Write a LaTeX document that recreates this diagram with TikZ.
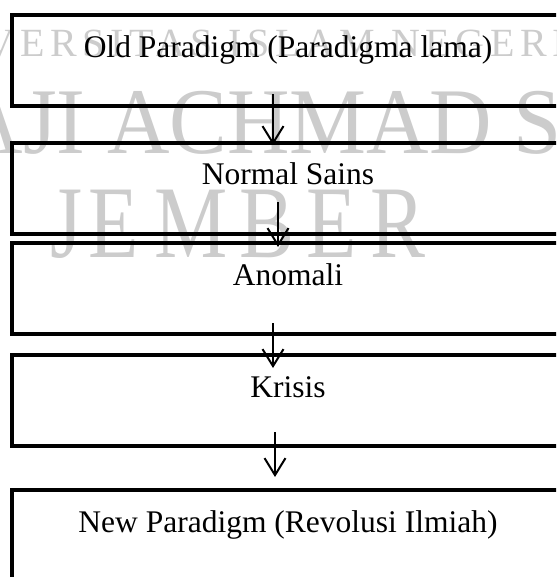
\documentclass[tikz,border=0pt]{standalone}
\usepackage{fontspec}
\setmainfont{Liberation Serif}
\usetikzlibrary{arrows.meta, positioning}

\tikzset{
  stage/.style={draw, line width=4pt, rectangle, anchor=north west, outer sep=0pt,
    minimum width=552pt, inner xsep=0pt, inner ysep=0pt,
    text height=42pt, text depth=49pt, font=\fontsize{31.5}{36}\selectfont},
  flow/.style={line width=2pt, -{Straight Barb[length=17pt, width=21pt]}},
  wmark/.style={text=black!20, inner sep=0pt},
}

\begin{document}
\begin{tikzpicture}[x=1pt, y=-1pt]
  \useasboundingbox (0,0) rectangle (556,577);
  \clip (0,0) rectangle (556,577);

  % watermark behind the flow
  \node[wmark, anchor=base, font=\fontsize{40}{42}\selectfont\addfontfeature{LetterSpace=14}] (wm1) at (232,57) {UNIVERSITAS ISLAM NEGERI};
  \node[wmark, anchor=base west, font=\fontsize{94}{96}\selectfont] (wm2) at (-306,154) {\scalebox{0.92}[1]{KIAI HAJI ACHMAD SIDDIQ}};
  \foreach \c/\x [count=\i] in {J/50,E/88,M/154,B/239,E/306,R/370}
    \node[wmark, anchor=base west, font=\fontsize{103}{105}\selectfont] (jem\i) at (\x,257) {\scalebox{0.8}[1]{\c}};

  % stages
  \node[stage] (box1) at (12,15.5) {Old Paradigm (Paradigma lama)};
  \node[stage] (box2) at (12,143) {Normal Sains};
  \node[stage] (box3) at (12,243) {Anomali};
  \node[stage] (box4) at (12,355) {Krisis};
  \node[stage] (box5) at (12,490) {New Paradigm (Revolusi Ilmiah)};

  % arrows
  \draw[flow] ([shift={(-15pt,12pt)}]box1.south) -- ([shift={(-15pt,-2pt)}]box2.north);
  \draw[flow] ([shift={(-10pt,32pt)}]box2.south) -- ([shift={(-10pt,-4pt)}]box3.north);
  \draw[flow] ([shift={(-15pt,11pt)}]box3.south) -- ([shift={(-15pt,-13pt)}]box4.north);
  \draw[flow] ([shift={(-13pt,14pt)}]box4.south) -- ([shift={(-13pt,13pt)}]box5.north);
\end{tikzpicture}
\end{document}
